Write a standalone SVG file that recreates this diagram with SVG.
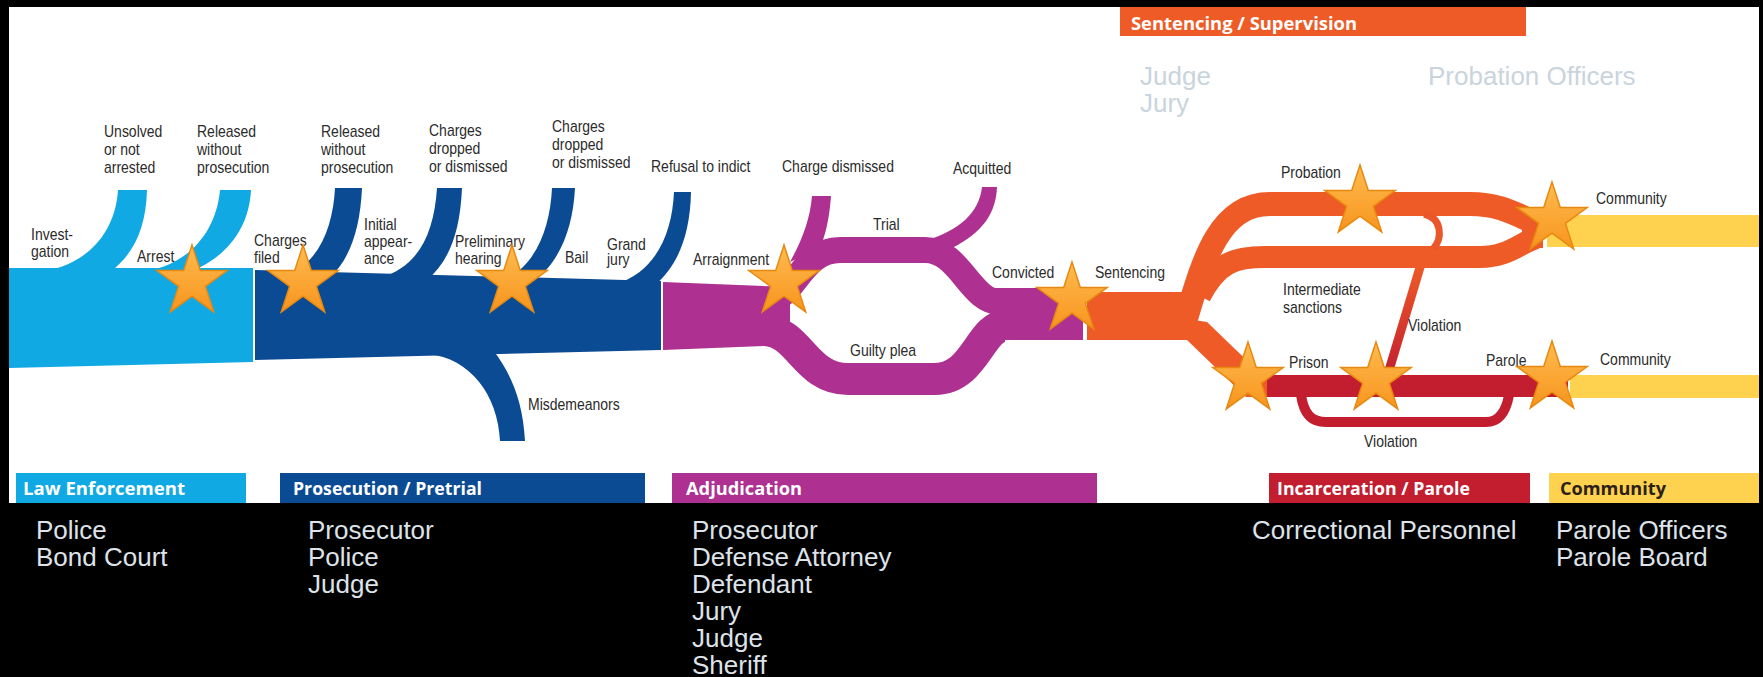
<svg xmlns="http://www.w3.org/2000/svg" xmlns:xlink="http://www.w3.org/1999/xlink" width="1763" height="677" viewBox="0 0 1763 677">
<defs>
<style>
.lbl{font-family:"Liberation Sans",Arial,sans-serif;font-size:16px;fill:#2b2b2b}
.hdr{font-family:"Open Sans","Liberation Sans",sans-serif;font-weight:700;font-size:17px;fill:#ffffff}
.role{font-family:"Liberation Sans",Arial,sans-serif;font-size:26px;fill:#dde3e8}
.role2{font-family:"Liberation Sans",Arial,sans-serif;font-size:26px;fill:#c9d4dd}
.le{fill:#10a9e3}
.pr{fill:#0b4b93}
.ad{fill:#ae3090}
.se{fill:#ee5b27}
.rd{fill:#c21e30}
.cm{fill:#fed24e}
.star{fill:url(#sg);stroke:#e8890f;stroke-width:1.5}
</style>
<linearGradient id="sg" x1="0" y1="0" x2="0" y2="1">
<stop offset="0" stop-color="#ffbb50"/>
<stop offset="1" stop-color="#f7951e"/>
</linearGradient>
<linearGradient id="vg" gradientUnits="userSpaceOnUse" x1="0" y1="265" x2="0" y2="376">
<stop offset="0" stop-color="#ee5b27"/>
<stop offset="1" stop-color="#c21e30"/>
</linearGradient>
<path id="star" d="M0,-37 L8.29,-11.41 L35.19,-11.43 L13.41,4.36 L21.75,29.93 L0,14.1 L-21.75,29.93 L-13.41,4.36 L-35.19,-11.43 L-8.29,-11.41 Z"/>
</defs>

<rect x="0" y="0" width="1763" height="677" fill="#000"/>
<rect x="9" y="7" width="1750" height="496" fill="#fff"/>

<g id="connectors">
<g id="law-enforcement-flow" class="le">
<path d="M9,268 L253,268 L253,362 L9,368 Z"/>
<path d="M36,272 C78,269 115,240 118,190 L147,190 C146,228 134,254 110,272 Z"/>
<path d="M138,272 C185,268 216,235 220,190 L251,190 C249,230 225,258 190,272 Z"/>
</g>
<g id="prosecution-flow" class="pr">
<path d="M255,270 L661,281 L661,350 L255,360 Z"/>
<path d="M283,276 C318,266 333,228 335,188 L362,188 C360,230 350,258 330,278 Z"/>
<path d="M380,278 C420,266 434,232 437,188 L462,188 C460,235 448,262 427,280 Z"/>
<path d="M500,282 C535,268 550,230 552,188 L575,188 C573,228 560,262 533,282 Z"/>
<path d="M616,284 C655,272 672,235 674,192 L691,192 C690,240 675,268 655,285 Z"/>
<path d="M428,354 C470,358 498,395 500,441 L525,441 C523,400 510,372 493,350 Z"/>
</g>
<g id="adjudication-flow" class="ad">
<path d="M663,282 L790,287 L790,345 L663,350 Z"/>
<path d="M765,302 C795,300 800,250 840,250 L925,250 C960,250 970,302 1000,302" fill="none" stroke="#ae3090" stroke-width="26"/>
<path d="M765,330 C800,332 805,379 848,379 L935,379 C975,379 980,326 1005,326" fill="none" stroke="#ae3090" stroke-width="32"/>
<path d="M990,288 L1083,288 L1083,340 L990,340 Z"/>
<path d="M812,196 L831,196 C829,222 825,236 820,248 L790,262 C802,240 810,220 812,196 Z"/>
<path d="M982,187 L997,187 C996,212 984,232 952,248 L928,240 C958,230 979,214 982,187 Z"/>
</g>
<g id="sentencing-flow" class="se">
<path d="M1087,292 L1195,292 L1195,340 L1087,340 Z"/>
<path d="M1185,322 C1203,262 1218,204 1270,204 L1470,204 C1500,204 1515,214 1536,223" fill="none" stroke="#ee5b27" stroke-width="24"/>
<path d="M1200,296 C1218,262 1235,257 1265,257 L1480,257 C1508,257 1520,243 1536,238" fill="none" stroke="#ee5b27" stroke-width="22"/>
<rect x="1522" y="215" width="21" height="33"/>
<path d="M1180,318 L1207,322 L1262,375 L1270,375 L1270,397 L1246,397 L1187,340 Z"/>
<path d="M1424,214 C1442,218 1443,238 1433,249" fill="none" stroke="#e9572a" stroke-width="7"/>
<path d="M1421,264 L1387,377" fill="none" stroke="url(#vg)" stroke-width="9"/>
</g>
<g id="incarceration-flow" class="rd">
<rect x="1267" y="375" width="301" height="22"/>
<path d="M1301,395 C1304,415 1312,422 1326,422 L1486,422 C1499,422 1506,412 1509,395" fill="none" stroke="#c21e30" stroke-width="10"/>
</g>
<g id="community-flow" class="cm">
<rect x="1547" y="215" width="212" height="32"/>
<rect x="1570" y="375" width="189" height="23"/>
</g>
</g>

<g id="flow-labels" class="lbl">
<text transform="translate(104,137) scale(0.875,1)"><tspan x="0">Unsolved</tspan><tspan x="0" dy="18">or not</tspan><tspan x="0" dy="18">arrested</tspan></text>
<text transform="translate(197,137) scale(0.875,1)"><tspan x="0">Released</tspan><tspan x="0" dy="18">without</tspan><tspan x="0" dy="18">prosecution</tspan></text>
<text transform="translate(321,137) scale(0.875,1)"><tspan x="0">Released</tspan><tspan x="0" dy="18">without</tspan><tspan x="0" dy="18">prosecution</tspan></text>
<text transform="translate(429,136) scale(0.875,1)"><tspan x="0">Charges</tspan><tspan x="0" dy="18">dropped</tspan><tspan x="0" dy="18">or dismissed</tspan></text>
<text transform="translate(552,132) scale(0.875,1)"><tspan x="0">Charges</tspan><tspan x="0" dy="18">dropped</tspan><tspan x="0" dy="18">or dismissed</tspan></text>
<text transform="translate(651,172) scale(0.875,1)">Refusal to indict</text>
<text transform="translate(782,172) scale(0.875,1)">Charge dismissed</text>
<text transform="translate(953,174) scale(0.875,1)">Acquitted</text>
<text transform="translate(31,240) scale(0.875,1)"><tspan x="0">Invest-</tspan><tspan x="0" dy="17">gation</tspan></text>
<text transform="translate(137,262) scale(0.875,1)">Arrest</text>
<text transform="translate(254,246) scale(0.875,1)"><tspan x="0">Charges</tspan><tspan x="0" dy="17">filed</tspan></text>
<text transform="translate(364,230) scale(0.875,1)"><tspan x="0">Initial</tspan><tspan x="0" dy="17">appear-</tspan><tspan x="0" dy="17">ance</tspan></text>
<text transform="translate(455,247) scale(0.875,1)"><tspan x="0">Preliminary</tspan><tspan x="0" dy="17">hearing</tspan></text>
<text transform="translate(565,263) scale(0.875,1)">Bail</text>
<text transform="translate(607,250) scale(0.875,1)"><tspan x="0">Grand</tspan><tspan x="0" dy="15">jury</tspan></text>
<text transform="translate(528,410) scale(0.875,1)">Misdemeanors</text>
<text transform="translate(693,265) scale(0.875,1)">Arraignment</text>
<text transform="translate(873,230) scale(0.875,1)">Trial</text>
<text transform="translate(850,356) scale(0.875,1)">Guilty plea</text>
<text transform="translate(992,278) scale(0.875,1)">Convicted</text>
<text transform="translate(1095,278) scale(0.875,1)">Sentencing</text>
<text transform="translate(1281,178) scale(0.875,1)">Probation</text>
<text transform="translate(1283,295) scale(0.875,1)"><tspan x="0">Intermediate</tspan><tspan x="0" dy="18">sanctions</tspan></text>
<text transform="translate(1408,331) scale(0.875,1)">Violation</text>
<text transform="translate(1289,368) scale(0.875,1)">Prison</text>
<text transform="translate(1486,366) scale(0.875,1)">Parole</text>
<text transform="translate(1364,447) scale(0.875,1)">Violation</text>
<text transform="translate(1596,204) scale(0.875,1)">Community</text>
<text transform="translate(1600,365) scale(0.875,1)">Community</text>
</g>

<g id="stars" class="star">
<use xlink:href="#star" href="#star" x="192" y="282"/>
<use xlink:href="#star" href="#star" x="303" y="282"/>
<use xlink:href="#star" href="#star" x="512" y="282"/>
<use xlink:href="#star" href="#star" x="784" y="282"/>
<use xlink:href="#star" href="#star" x="1072" y="299"/>
<use xlink:href="#star" href="#star" x="1360" y="202"/>
<use xlink:href="#star" href="#star" x="1552" y="219"/>
<use xlink:href="#star" href="#star" x="1248" y="379"/>
<use xlink:href="#star" href="#star" x="1376" y="379"/>
<use xlink:href="#star" href="#star" x="1552" y="378"/>
</g>

<g id="node-sentencing-supervision">
<rect x="1120" y="7" width="406" height="29" class="se"/>
<text x="1131" y="30" class="hdr" textLength="226" lengthAdjust="spacingAndGlyphs">Sentencing / Supervision</text>
<text class="role2"><tspan x="1140" y="85">Judge</tspan><tspan x="1140" y="112">Jury</tspan></text>
<text class="role2" x="1428" y="85">Probation Officers</text>
</g>

<g id="node-law-enforcement">
<rect x="16" y="473" width="230" height="30" class="le"/>
<text x="23" y="495" class="hdr" textLength="162" lengthAdjust="spacingAndGlyphs">Law Enforcement</text>
<text class="role"><tspan x="36" y="539">Police</tspan><tspan x="36" y="566">Bond Court</tspan></text>
</g>

<g id="node-prosecution-pretrial">
<rect x="280" y="473" width="365" height="30" class="pr"/>
<text x="293" y="495" class="hdr" textLength="189" lengthAdjust="spacingAndGlyphs">Prosecution / Pretrial</text>
<text class="role"><tspan x="308" y="539">Prosecutor</tspan><tspan x="308" y="566">Police</tspan><tspan x="308" y="593">Judge</tspan></text>
</g>

<g id="node-adjudication">
<rect x="672" y="473" width="425" height="30" class="ad"/>
<text x="686" y="495" class="hdr" textLength="116" lengthAdjust="spacingAndGlyphs">Adjudication</text>
<text class="role"><tspan x="692" y="539">Prosecutor</tspan><tspan x="692" y="566">Defense Attorney</tspan><tspan x="692" y="593">Defendant</tspan><tspan x="692" y="620">Jury</tspan><tspan x="692" y="647">Judge</tspan><tspan x="692" y="674">Sheriff</tspan></text>
</g>

<g id="node-incarceration-parole">
<rect x="1269" y="473" width="261" height="30" class="rd"/>
<text x="1277" y="495" class="hdr" textLength="193" lengthAdjust="spacingAndGlyphs">Incarceration / Parole</text>
<text class="role" x="1252" y="539">Correctional Personnel</text>
</g>

<g id="node-community">
<rect x="1549" y="473" width="210" height="30" class="cm"/>
<text x="1560" y="495" class="hdr" style="fill:#2b2118" textLength="106" lengthAdjust="spacingAndGlyphs">Community</text>
<text class="role"><tspan x="1556" y="539">Parole Officers</tspan><tspan x="1556" y="566">Parole Board</tspan></text>
</g>
</svg>
